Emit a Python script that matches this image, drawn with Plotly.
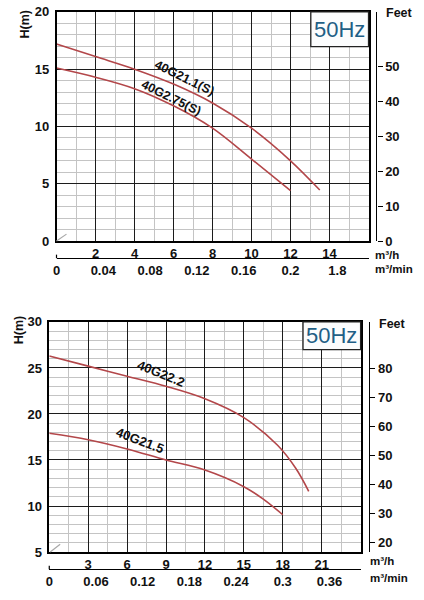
import plotly.graph_objects as go

# ---------------- data (top chart) ----------------
top_q_211 = [0, 2, 4, 6, 8, 10, 12, 13.5]
top_h_211 = [17.2, 16.1, 15.0, 13.7, 12.05, 9.85, 7.0, 4.45]
top_q_275 = [0, 2, 4, 6, 8, 10, 12]
top_h_275 = [15.1, 14.3, 13.3, 11.8, 9.85, 7.15, 4.4]
top_flow_ticks = [2, 4, 6, 8, 10, 12, 14]
top_head_ticks = [0, 5, 10, 15, 20]
top_feet_ticks = [0, 10, 20, 30, 40, 50]
top_min_vals = [0, 0.04, 0.08, 0.12, 0.16, 0.2, 0.24]
top_min_text = ["0", "0.04", "0.08", "0.12", "0.16", "0.2", "1.8"]

# ---------------- data (bottom chart) ----------------
bot_q_222 = [0, 3, 6, 9, 12, 15, 17.6, 19, 20]
bot_h_222 = [26.3, 25.2, 24.1, 23.0, 21.65, 19.6, 16.6, 14.1, 11.6]
bot_q_215 = [0, 3, 6, 9, 12, 15, 16.5, 18]
bot_h_215 = [17.9, 17.2, 16.2, 15.0, 13.9, 12.1, 10.75, 9.05]
bot_flow_ticks = [3, 6, 9, 12, 15, 18, 21]
bot_head_ticks = [5, 10, 15, 20, 25, 30]
bot_feet_ticks = [20, 30, 40, 50, 60, 70, 80]
bot_min_vals = [0, 0.06, 0.12, 0.18, 0.24, 0.3, 0.36]
bot_min_text = ["0", "0.06", "0.12", "0.18", "0.24", "0.3", "0.36"]

FONT = "Liberation Sans, Arial, sans-serif"
TXT = "#111111"
RED = "#b3474a"
MAJ = "#1c1c1c"
MIN = "#c4c4c4"
tickfont = dict(family=FONT, size=13, color=TXT, weight="bold")

W, H = 424, 600
def px(x):
    return x / W
def py(y):
    return 1 - y / H

fig = go.Figure()
fig.add_trace(go.Scatter(x=top_q_211, y=top_h_211, mode="lines", line=dict(color=RED, width=1.6, shape="spline"),
                         xaxis="x", yaxis="y", hoverinfo="skip"))
fig.add_trace(go.Scatter(x=top_q_275, y=top_h_275, mode="lines", line=dict(color=RED, width=1.6, shape="spline"),
                         xaxis="x", yaxis="y", hoverinfo="skip"))
fig.add_trace(go.Scatter(x=bot_q_222, y=bot_h_222, mode="lines", line=dict(color=RED, width=1.6, shape="spline"),
                         xaxis="x3", yaxis="y3", hoverinfo="skip"))
fig.add_trace(go.Scatter(x=bot_q_215, y=bot_h_215, mode="lines", line=dict(color=RED, width=1.6, shape="spline"),
                         xaxis="x3", yaxis="y3", hoverinfo="skip"))
# invisible carriers so the secondary (feet / m³/min) axes are rendered
fig.add_trace(go.Scatter(x=top_min_vals[:1], y=top_feet_ticks[:1], mode="markers", marker=dict(opacity=0),
                         xaxis="x2", yaxis="y2", hoverinfo="skip"))
fig.add_trace(go.Scatter(x=bot_min_vals[:1], y=bot_feet_ticks[:1], mode="markers", marker=dict(opacity=0),
                         xaxis="x4", yaxis="y4", hoverinfo="skip"))

def main_x(domain, rng, tickvals, minor_dtick, anchor):
    return dict(domain=domain, range=rng, tickmode="array", tickvals=tickvals, ticks="",
                showline=True, linecolor="black", linewidth=1.5, mirror=True,
                showgrid=True, gridcolor=MAJ, gridwidth=1.3, zeroline=False,
                minor=dict(tickmode="linear", tick0=0, dtick=minor_dtick, showgrid=True, gridcolor=MIN, gridwidth=1),
                tickfont=tickfont, anchor=anchor, fixedrange=True)

def main_y(domain, rng, tickvals, anchor):
    return dict(domain=domain, range=rng, tickmode="array", tickvals=tickvals, ticks="",
                showline=True, linecolor="black", linewidth=1.5, mirror=True,
                showgrid=True, gridcolor=MAJ, gridwidth=1.3, zeroline=False,
                minor=dict(tickmode="linear", tick0=0, dtick=1, showgrid=True, gridcolor=MIN, gridwidth=1),
                tickfont=tickfont, anchor=anchor, ticklabelstandoff=3, fixedrange=True)

def feet_axis(over, pos, rng, tickvals):
    return dict(overlaying=over, side="right", anchor="free", position=pos, range=rng,
                tickmode="array", tickvals=tickvals, ticks="outside", ticklen=5, tickwidth=1.2,
                tickcolor="black", showline=True, linecolor="black", linewidth=1.2,
                showgrid=False, zeroline=False, tickfont=tickfont, fixedrange=True)

def min_axis(over, pos, rng, tickvals, ticktext):
    return dict(overlaying=over, side="bottom", anchor="free", position=pos, range=rng,
                tickmode="array", tickvals=tickvals, ticktext=ticktext, ticks="",
                showline=True, linecolor="black", linewidth=1.2, showgrid=False, zeroline=False,
                tickfont=tickfont, fixedrange=True)

top_xd = [px(53), px(368)]
top_yd = [py(240), py(5)]
bot_xd = [px(45.7), px(360)]
bot_yd = [py(559), py(323)]

fig.update_layout(
    width=W, height=H, margin=dict(l=0, r=0, t=0, b=0),
    paper_bgcolor="white", plot_bgcolor="white", showlegend=False,
    xaxis=main_x(top_xd, [0, 16], top_flow_ticks, 1, "y"),
    yaxis=main_y(top_yd, [0, 20], top_head_ticks, "x"),
    yaxis2=feet_axis("y", px(376), [0, 65.6], top_feet_ticks),
    xaxis2=min_axis("x", py(257.7), [0, 16 / 60], top_min_vals, top_min_text),
    xaxis3=main_x(bot_xd, [0, 24], bot_flow_ticks, 1.5, "y3"),
    yaxis3=main_y(bot_yd, [5, 30], bot_head_ticks, "x3"),
    yaxis4=feet_axis("y3", px(368.7), [16.75, 95.9], bot_feet_ticks),
    xaxis4=min_axis("x3", py(576.7), [0, 0.4], bot_min_vals, bot_min_text),
)

def ann(x, y, text, size=13, xanchor="center", yanchor="middle", angle=0, xref="paper", yref="paper",
        color=TXT, bold=True):
    fig.add_annotation(x=x, y=y, xref=xref, yref=yref, text=text, showarrow=False,
                       xanchor=xanchor, yanchor=yanchor, textangle=angle,
                       font=dict(family=FONT, size=size, color=color, weight="bold" if bold else "normal"))

# curve labels
ann(6.55, 14.2, "40G21.1(S)", size=12.5, angle=26, xref="x", yref="y")
ann(5.9, 12.5, "40G2.75(S)", size=12.5, angle=26, xref="x", yref="y")
ann(8.6, 24.35, "40G22.2", size=13, angle=22, xref="x3", yref="y3")
ann(7.0, 17.1, "40G21.5", size=13, angle=21, xref="x3", yref="y3")

# axis titles
ann(px(21.7), py(17.5), "H(m)", size=12.5, angle=-90)
ann(px(16), py(331.7), "H(m)", size=12.5, angle=-90)
ann(px(384), py(6), "Feet", size=12.5, xanchor="left")
ann(px(377), py(325), "Feet", size=12.5, xanchor="left")
ann(px(373), py(254.5), "m³/h", size=11.5, xanchor="left")
ann(px(373), py(269), "m³/min", size=11.5, xanchor="left")
ann(px(367), py(568), "m³/h", size=11.5, xanchor="left")
ann(px(367), py(586), "m³/min", size=11.5, xanchor="left")

# 50Hz boxes
for xr, yr, y0 in (("x domain", "y domain", 0.848), ("x3 domain", "y3 domain", 0.88)):
    fig.add_shape(type="rect", xref=xr, yref=yr, x0=0.815, x1=1.0, y0=y0, y1=1.0,
                  line=dict(color="#222222", width=1.3), fillcolor="#fbfcfd", layer="above")
    fig.add_annotation(xref=xr, yref=yr, x=0.9075, y=(y0 + 1) / 2, text="50Hz", showarrow=False,
                       xanchor="center", yanchor="middle",
                       font=dict(family=FONT, size=22, color="#1f5f86"))

# small decorations: corner diagonal and m³/min end ticks
fig.add_shape(type="line", xref="x domain", yref="y domain", x0=0.0, y0=0.0, x1=0.032, y1=0.03,
              line=dict(color="#a8a8a8", width=1.2))
fig.add_shape(type="line", xref="x3 domain", yref="y3 domain", x0=0.003, y0=0.0, x1=0.035, y1=0.034,
              line=dict(color="#a8a8a8", width=1.2))
fig.add_shape(type="line", xref="x domain", yref="paper", x0=0, x1=0, y0=py(257.7), y1=py(254),
              line=dict(color="black", width=1.2))
fig.add_shape(type="line", xref="x3 domain", yref="paper", x0=0, x1=0, y0=py(576.7), y1=py(573),
              line=dict(color="black", width=1.2))

fig.write_html("out.html", config={"displayModeBar": False},
               post_script="document.body.style.margin='0';document.body.style.overflow='hidden';")
